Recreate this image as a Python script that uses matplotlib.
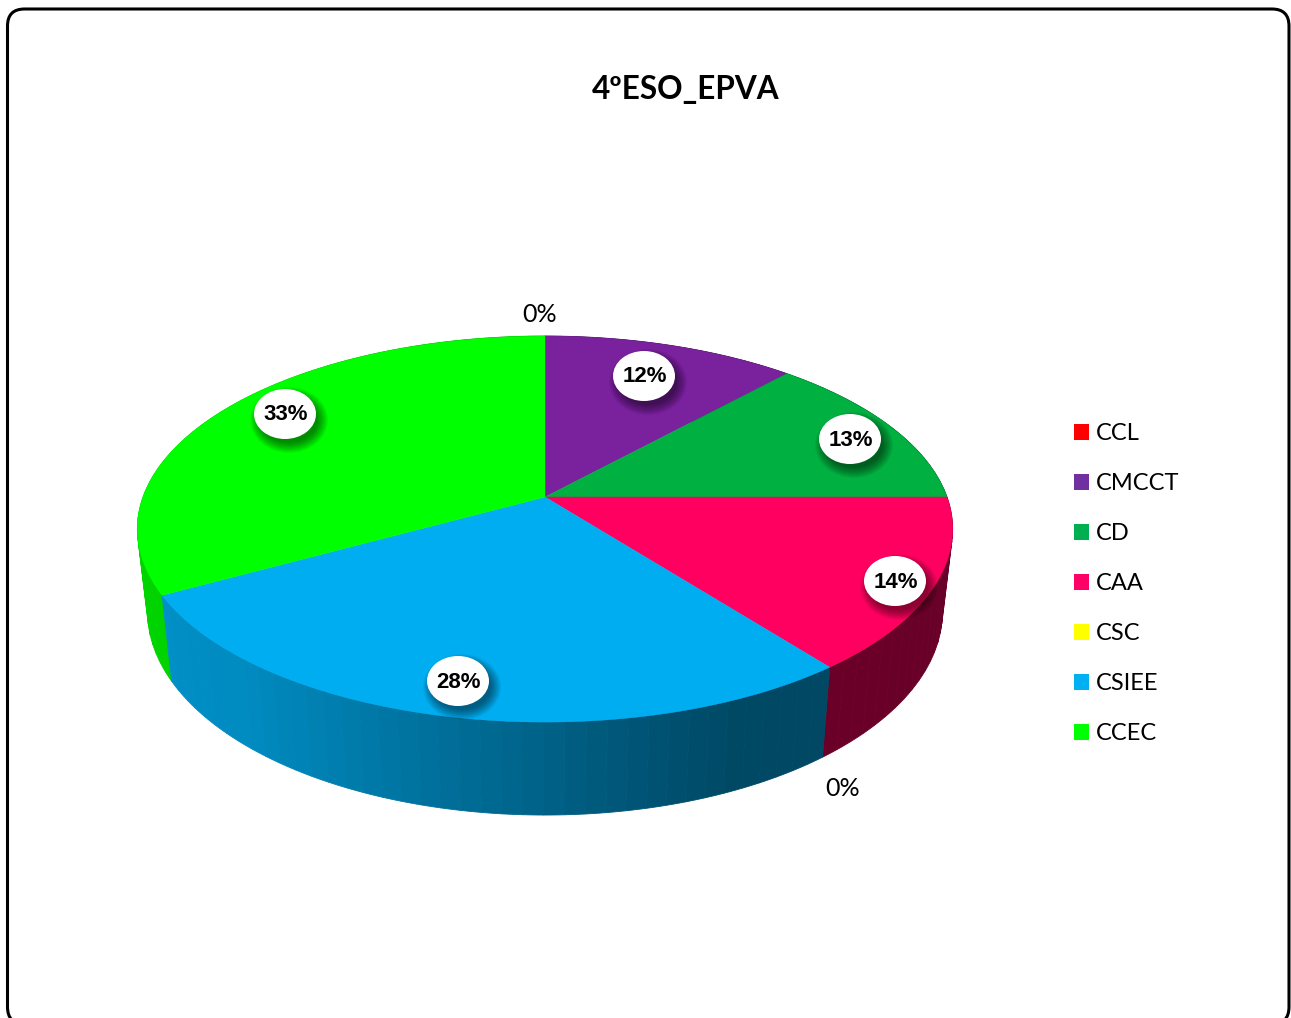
import numpy as np
import matplotlib
matplotlib.use("Agg")
import matplotlib.pyplot as plt
from matplotlib.patches import Ellipse, FancyBboxPatch, Patch

title = "4ºESO_EPVA"
categories = ['CCL', 'CMCCT', 'CD', 'CAA', 'CSC', 'CSIEE', 'CCEC']
values = [0.0, 11.8, 13.2, 14.45, 0.0, 27.55, 33.0]
colors = ['#FF0000', '#7A219E', '#00B040', '#FF0060', '#FFFF00', '#00ADF0', '#00FF00']
legend_colors = ['#FF0000', '#7030A0', '#00B050', '#FF0066', '#FFFF00', '#00B0F0', '#00FF00']

# pixel places of the data labels, same order as categories
label_xy = [(540, 314), (644, 376), (850, 439), (895, 581), (843, 788), (458, 681), (285, 414)]

# perspective of the disc, in pixels
cx, cy = 545, 497
k = 0.166
scale_x, scale_y = 402, 187.7

shade_u = [-1.0, -0.65, -0.15, 0.1, 0.4, 1.0]
shade_f = [0.84, 0.80, 0.62, 0.52, 0.42, 0.41]


def top_xy(theta):
    u, v = np.sin(theta), np.cos(theta)
    w = 1 + k * v
    return cx + scale_x * u / w, cy - scale_y * v / w


def bottom_xy(theta):
    x, y = top_xy(theta)
    return cx + 0.975 * (x - cx), cy + 80.6 + 1.055 * (y - cy)


W, H = 1291, 1018
fig = plt.figure(figsize=(W / 100, H / 100), dpi=100)
ax = fig.add_axes([0, 0, 1, 1])
ax.set_xlim(0, W)
ax.set_ylim(H, 0)
ax.axis('off')

frame = FancyBboxPatch((7.5, 9), 1281.5, 1015, boxstyle="round,pad=0,rounding_size=17",
                       fc='white', ec='black', lw=2.2, zorder=0)
ax.add_patch(frame)

edges = np.cumsum([0.0] + values) / sum(values) * 2 * np.pi

## side wall, back to front so the front strips stay on top
strips = []
for i, val in enumerate(values):
    if val == 0:
        continue
    n = max(2, int((edges[i + 1] - edges[i]) / np.radians(2.5)))
    t = np.linspace(edges[i], edges[i + 1], n + 1)
    for a, b in zip(t[:-1], t[1:]):
        strips.append((a, b, colors[i]))
strips.sort(key=lambda s: -np.cos((s[0] + s[1]) / 2))
for a, b, c in strips:
    mid = (a + b) / 2
    tt = np.linspace(a, b, 4)
    xt, yt = top_xy(tt)
    xb, yb = bottom_xy(tt)
    f = np.interp(np.sin(mid), shade_u, shade_f)
    rgb = np.array(matplotlib.colors.to_rgb(c)) * f
    ax.fill(np.r_[xt, xb[::-1]], np.r_[yt, yb[::-1]], color=rgb, lw=0.6, zorder=1)

## top of the disc
for i, val in enumerate(values):
    if val == 0:
        continue
    t = np.linspace(edges[i], edges[i + 1], 120)
    x, y = top_xy(t)
    ax.fill(np.r_[cx, x], np.r_[cy, y], color=colors[i], lw=0.3, zorder=2)

## data labels
for i, val in enumerate(values):
    lx, ly = label_xy[i]
    if val == 0:
        ax.text(lx, ly, "%d%%" % round(val), fontsize=18, family='Lato', color='black',
                ha='center', va='center', zorder=6)
        continue
    for s in range(14):
        grow = 16 - 1.6 * s
        ax.add_patch(Ellipse((lx + 4, ly + 6), 62 + grow, 50 + grow, fc='black', ec='none',
                             alpha=0.04, zorder=3))
    ax.add_patch(Ellipse((lx, ly), 62, 50, fc='white', ec='none', zorder=4))
    ax.text(lx + 0.5, ly + 1, "%d%%" % round(val), fontsize=16, family='Liberation Sans', fontweight='bold',
            color='black', ha='center', va='center', zorder=5)

ax.text(685.5, 89, title, fontsize=22.7, family='Lato', fontweight='bold', color='black',
        ha='center', va='center')

handles = [Patch(fc=c, ec='none', label=n) for c, n in zip(legend_colors, categories)]
leg = ax.legend(handles=handles, loc='upper left', bbox_to_anchor=(1067, 416),
                bbox_transform=ax.transData, frameon=False,
                prop={'family': 'Lato', 'size': 17}, handlelength=0.64, handleheight=0.64,
                handletextpad=0.3, labelspacing=1.23, borderpad=0.3, borderaxespad=0)

plt.savefig("out.png", dpi=100)
